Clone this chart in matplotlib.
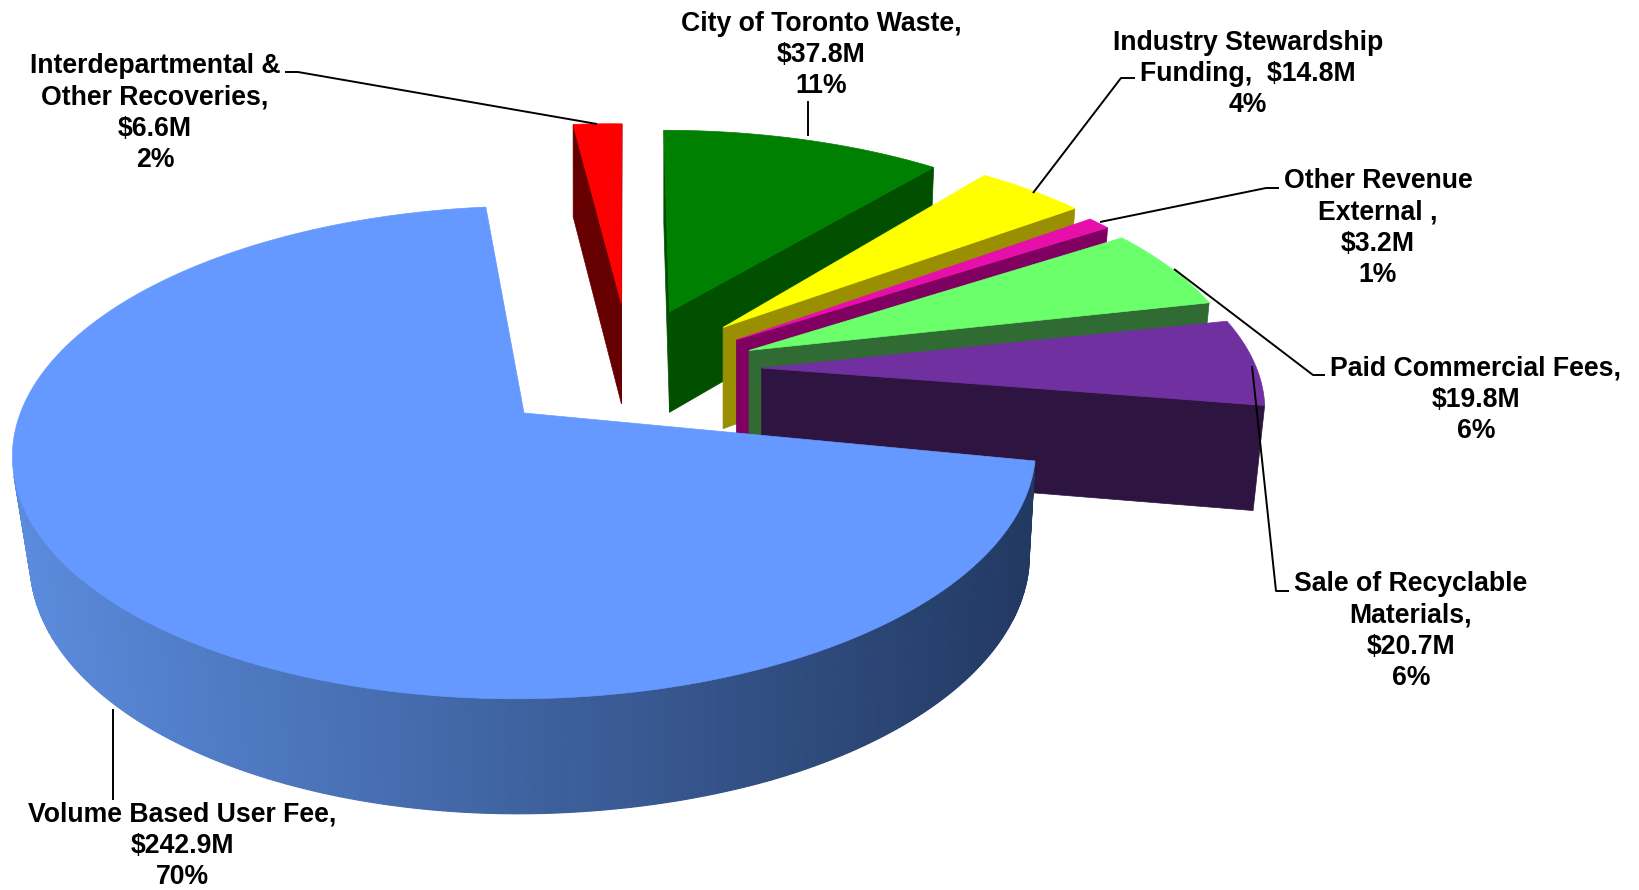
import numpy as np
import matplotlib
matplotlib.use("Agg")
import matplotlib.pyplot as plt
from matplotlib.patches import Polygon

# ---- data ----
categories = ["Volume Based User Fee", "Interdepartmental & Other Recoveries", "City of Toronto Waste",
              "Industry Stewardship Funding", "Other Revenue External", "Paid Commercial Fees",
              "Sale of Recyclable Materials"]
values_m = [242.9, 6.6, 37.8, 14.8, 3.2, 19.8, 20.7]
labels = ["Volume Based User Fee,\n$242.9M\n70%",
          "Interdepartmental &\nOther Recoveries,\n$6.6M\n2%",
          "City of Toronto Waste,\n$37.8M\n11%",
          "Industry Stewardship\nFunding,  $14.8M\n4%",
          "Other Revenue\nExternal ,\n$3.2M\n1%",
          "Paid Commercial Fees,\n$19.8M\n6%",
          "Sale of Recyclable\nMaterials,\n$20.7M\n6%"]
top_colors = ["#6699FF", "#FF0000", "#008000", "#FFFF00", "#E60FAB", "#6CFF6C", "#7030A0"]
wall_colors = [None, "#660000", "#005000", "#998F00", "#7F0060", "#2F6B33", "#2E1440"]
# explosion offset of each slice on the ground plane, and its small image-space tilt
offsets = [(0.0, 0.0), (0.208, 0.493), (0.309, 0.4526), (0.418, 0.378), (0.442, 0.32), (0.465, 0.272), (0.485, 0.193)]
tilts = [0.008, 0.0, 0.012, 0.03, 0.03, 0.027, 0.023]
label_xy = [(182, 846), (155, 113), (821, 55), (1248, 74), (1378, 228), (1476, 400), (1411, 631)]
leaders = [[(113, 800), (113, 709)],
           [(285, 72), (298, 72), (597, 124)],
           [(808, 101), (808, 136)],
           [(1135, 78), (1121, 78), (1033, 193)],
           [(1279, 188), (1266, 188), (1100, 222)],
           [(1325, 375), (1313, 375), (1174, 269)],
           [(1289, 591), (1276, 591), (1252, 366)]]
START_ANGLE = -12.1

# ---- projection of the tilted pie ----
CX, CY, A, B, K, H, KH = 524.0, 413.0, 505.0, 240.0, 0.16, 104.7, 0.09
VX_L, S_L, VX_R, S_R = 575.0, 0.0315, 770.0, 0.0234   # walls narrow slightly towards the bottom

def project(x, y, z=0.0):
    x, y = np.asarray(x, float), np.asarray(y, float)
    d = 1 + K * y
    px = CX + A * x / d
    shift = np.where(px < VX_L, S_L * (VX_L - px), np.where(px > VX_R, -S_R * (px - VX_R), 0.0))
    return px + z * shift, CY - B * y / d + z * H / (1 + KH * y)

def area(q):
    x, y = q[:, 0], q[:, 1]
    return 0.5 * np.sum(x * np.roll(y, -1) - np.roll(x, -1) * y)

def lerp(c1, c2, t):
    return tuple(a + (b - a) * t for a, b in zip(c1, c2))

WALL_L, WALL_R = (0.36, 0.55, 0.87), (0.13, 0.22, 0.38)

fig = plt.figure(figsize=(16.4, 8.9), dpi=100)
ax = fig.add_axes([0, 0, 1, 1])
ax.set_xlim(0, 1640)
ax.set_ylim(890, 0)
ax.axis("off")

sweeps = np.array(values_m) / sum(values_m) * 360.0
starts = START_ANGLE - np.concatenate([[0], np.cumsum(sweeps)[:-1]])
order = [1, 2, 3, 4, 5, 6, 0]

for i in order:
    a0, a1 = starts[i], starts[i] - sweeps[i]
    th = np.radians(np.linspace(a0, a1, max(int(sweeps[i] * 2), 8) + 1))
    ox, oy = offsets[i]
    gx, gy = ox + np.cos(th), oy + np.sin(th)
    tx, ty = project(gx, gy)
    bx, by = project(gx, gy, 1.0)
    ax0, ay0 = project(ox, oy)
    ax1, ay1 = project(ox, oy, 1.0)
    ty = ty - tilts[i] * (tx - ax0)
    by = by - tilts[i] * (bx - ax0)
    z = 2 + order.index(i)
    # outer wall, split into small pieces for shading
    for j in range(len(th) - 1):
        q = np.array([[tx[j], ty[j]], [tx[j + 1], ty[j + 1]], [bx[j + 1], by[j + 1]], [bx[j], by[j]]])
        if area(q) < 0:
            if wall_colors[i] is None:
                t = np.clip((q[:, 0].mean() - 10) / 1030, 0, 1)
                c = lerp(WALL_L, WALL_R, t)
            else:
                c = wall_colors[i]
            ax.add_patch(Polygon(q, closed=True, fc=c, ec=c, lw=0.8, zorder=z))
    # cut walls
    for p, r, pb, rb in [((tx[-1], ty[-1]), (ax0, ay0), (bx[-1], by[-1]), (ax1, ay1)),
                         ((ax0, ay0), (tx[0], ty[0]), (ax1, ay1), (bx[0], by[0]))]:
        q = np.array([p, r, rb, pb])
        if area(q) < 0 and wall_colors[i] is not None:
            ax.add_patch(Polygon(q, closed=True, fc=wall_colors[i], ec=wall_colors[i], lw=0.5, zorder=z))
    # top face
    top = np.vstack([[ax0, ay0], np.column_stack([tx, ty])])
    ax.add_patch(Polygon(top, closed=True, fc=top_colors[i], ec=top_colors[i], lw=0.5, zorder=z + 0.5))

# ---- leader lines and labels ----
for pts in leaders:
    xs, ys = zip(*pts)
    ax.plot(xs, ys, color="black", lw=1.4, zorder=20, solid_capstyle="butt")

for lab, (x, y) in zip(labels, label_xy):
    ax.text(x, y, lab, ha="center", va="center", ma="center", fontsize=19.2, fontweight="bold",
            family="Liberation Sans", linespacing=1.26, color="black", zorder=21)

fig.savefig("out.png", dpi=100, facecolor="white")
